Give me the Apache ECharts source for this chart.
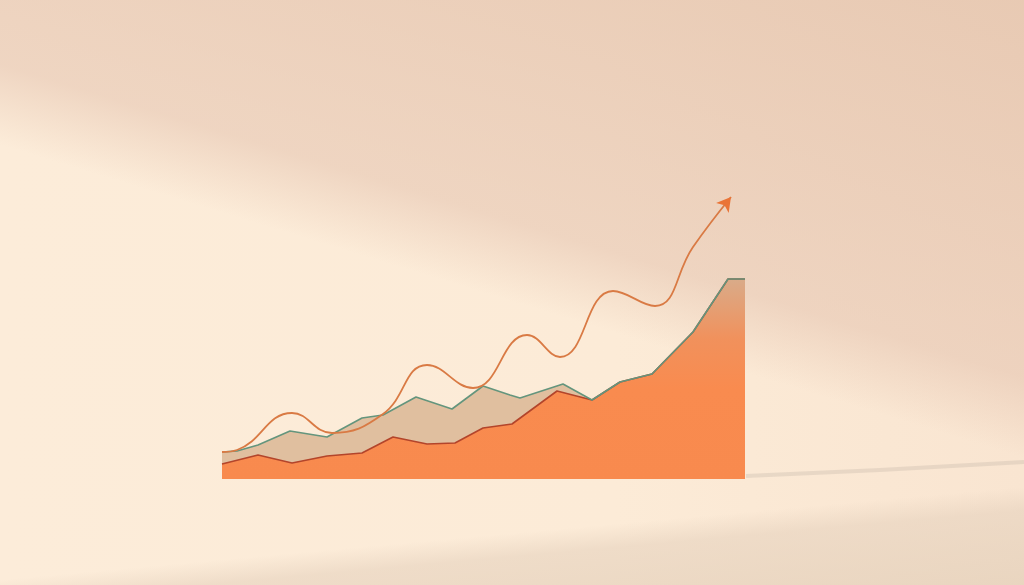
<!DOCTYPE html>
<html>
<head>
<meta charset="utf-8">
<script src="https://cdn.jsdelivr.net/npm/echarts@6/dist/echarts.min.js"></script>
<style>
html,body{margin:0;padding:0;width:1024px;height:585px;overflow:hidden;}
body{
  background:
    linear-gradient(174.8deg, rgba(230,210,190,0) 85.5%, rgba(230,210,190,0.6) 89%, rgba(228,208,186,0.75) 100%),
    linear-gradient(17deg, rgba(230,198,178,0) 49%, rgba(230,198,178,0.6) 58%, rgba(228,195,172,0.8) 100%),
    linear-gradient(90deg, #fcecd9 0%, #fcebd7 60%, #f9e5d1 100%);
}
#chart{width:1024px;height:585px;}
</style>
</head>
<body>
<div id="chart"></div>
<script>
// upper band (teal outline)
const upperX = [0, 15, 36, 68, 105, 140, 161, 194, 230, 261, 288, 298, 341, 370, 398, 430, 471, 506, 523];
const upperY = [27, 28, 34, 48, 42, 61, 64, 82, 70, 93, 84, 81, 95, 79, 97, 105, 147, 200, 200];
// lower band (red outline)
const lowerX = [0, 36, 70, 105, 140, 171, 205, 233, 261, 290, 335, 370, 398, 430, 471, 506, 523];
const lowerY = [15, 24, 16, 23, 26, 42, 35, 36, 51, 55, 88, 79, 97, 105, 147, 200, 200];
// trend line with arrow
const trendX = [0, 15, 70, 110, 161, 205, 251, 305, 338, 391, 433, 471, 509];
const trendY = [27, 29, 66, 46, 65, 114, 91, 144, 122, 188, 173, 232, 282];

const pairs = (xs, ys) => xs.map((x, i) => [x, ys[i]]);
const trendData = pairs(trendX, trendY).map((p, i, a) =>
  i === a.length - 1 ? {value: p, symbol: 'arrow', symbolSize: [12, 14], symbolRotate: -38, itemStyle: {color: '#ea7437'}} : {value: p, symbol: 'none'});

const chart = echarts.init(document.getElementById('chart'), null, {renderer: 'canvas'});
chart.setOption({
  backgroundColor: 'transparent',
  animation: false,
  grid: {left: 222, right: 279, top: 179, bottom: 106},
  xAxis: {type: 'value', min: 0, max: 523, show: false},
  yAxis: {type: 'value', min: 0, max: 300, show: false},
  graphic: [{
    type: 'polyline', z: -1,
    shape: {points: [[746, 476], [880, 470], [1024, 462]]},
    style: {stroke: 'rgba(205,190,175,0.4)', lineWidth: 4, fill: null}
  }],
  series: [
    {
      type: 'line', data: pairs(upperX, upperY), symbol: 'none', z: 1,
      lineStyle: {width: 0},
      areaStyle: {color: '#e0bf9f', opacity: 1}
    },
    {
      type: 'line', data: pairs(lowerX, lowerY), symbol: 'none', z: 2,
      lineStyle: {color: '#b3452b', width: 1.6},
      areaStyle: {
        opacity: 1,
        color: new echarts.graphic.LinearGradient(0, 0, 0, 1, [
          {offset: 0, color: '#d9ab89'},
          {offset: 0.3, color: '#f1915c'},
          {offset: 0.55, color: '#f98b4f'},
          {offset: 1, color: '#f88a4e'}
        ])
      }
    },
    {
      type: 'line', data: pairs(upperX, upperY), symbol: 'none', z: 3,
      lineStyle: {color: '#64957d', width: 1.6}
    },
    {
      type: 'line', data: trendData, smooth: 0.45, showSymbol: true, z: 4,
      lineStyle: {color: '#d97a44', width: 1.8},
      itemStyle: {color: '#ea7437'}
    }
  ]
});
</script>
</body>
</html>
